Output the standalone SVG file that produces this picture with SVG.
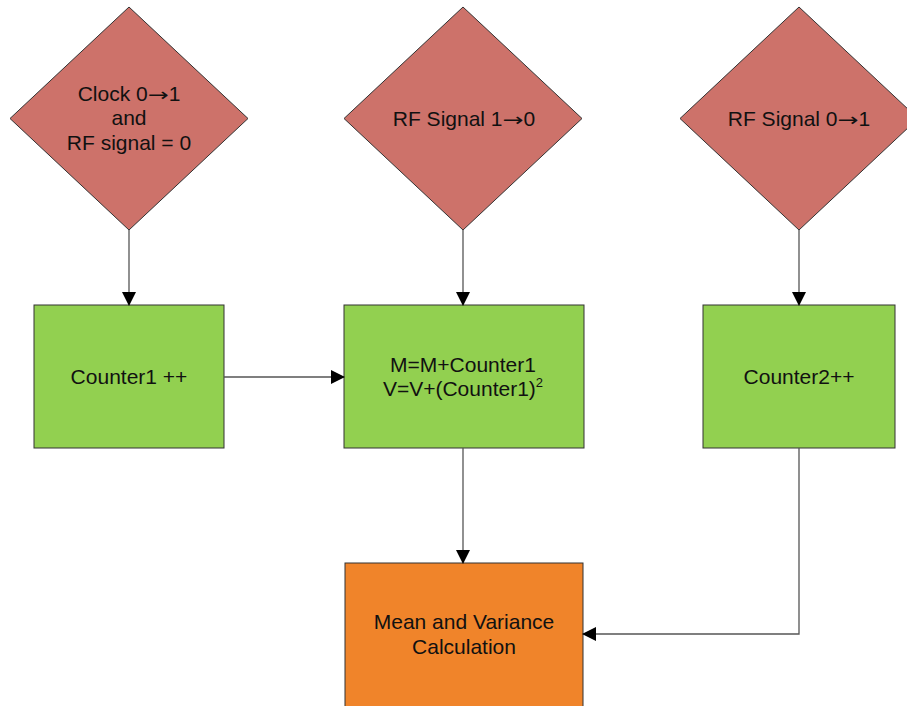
<svg xmlns="http://www.w3.org/2000/svg" width="907" height="706" viewBox="0 0 907 706">
<defs>
<marker id="arr" markerWidth="14" markerHeight="14" refX="13" refY="7" orient="auto" markerUnits="userSpaceOnUse">
<path d="M0,0 L14,7 L0,14 Z" fill="#000"/>
</marker>
<style>
.dia{fill:#CD726A;stroke:#333;stroke-width:1}
.grn{fill:#92D050;stroke:#333;stroke-width:1}
.org{fill:#F0842A;stroke:#333;stroke-width:1}
.t{font-family:"Liberation Sans",Arial,sans-serif;font-size:21px;fill:#111;text-anchor:middle}
.ar{font-family:"DejaVu Sans",sans-serif;font-size:18px}
.c{fill:none;stroke:#555;stroke-width:1.3}
</style>
</defs>
<rect width="907" height="706" fill="#fff"/>
<g id="d1">
<polygon class="dia" points="129,7 248,118.5 129,230 10,118.5"/>
<text class="t" x="129" y="101">Clock 0<tspan class="ar" textLength="21" lengthAdjust="spacingAndGlyphs">→</tspan>1</text>
<text class="t" x="129" y="125">and</text>
<text class="t" x="129" y="150">RF signal = 0</text>
</g>
<g id="d2">
<polygon class="dia" points="463,7 582,118.5 463,230 344,118.5"/>
<text class="t" x="464" y="126">RF Signal 1<tspan class="ar" textLength="21" lengthAdjust="spacingAndGlyphs">→</tspan>0</text>
</g>
<g id="d3">
<polygon class="dia" points="799,7 918,118.5 799,230 680,118.5"/>
<text class="t" x="799" y="126">RF Signal 0<tspan class="ar" textLength="21" lengthAdjust="spacingAndGlyphs">→</tspan>1</text>
</g>
<g id="b1">
<rect class="grn" x="34" y="305" width="190" height="143"/>
<text class="t" x="129" y="384">Counter1 ++</text>
</g>
<g id="b2">
<rect class="grn" x="344" y="305" width="240" height="143"/>
<text class="t" x="463" y="372">M=M+Counter1</text>
<text class="t" x="463" y="396">V=V+(Counter1)<tspan font-size="13" dy="-9">2</tspan></text>
</g>
<g id="b3">
<rect class="grn" x="703" y="305" width="192" height="143"/>
<text class="t" x="799" y="384">Counter2++</text>
</g>
<g id="b4">
<rect class="org" x="345" y="563" width="238" height="150"/>
<text class="t" x="464" y="629">Mean and Variance</text>
<text class="t" x="464" y="654">Calculation</text>
</g>
<g id="connectors">
<line class="c" x1="129" y1="230" x2="129" y2="305" marker-end="url(#arr)"/>
<line class="c" x1="463" y1="230" x2="463" y2="305" marker-end="url(#arr)"/>
<line class="c" x1="799" y1="230" x2="799" y2="305" marker-end="url(#arr)"/>
<line class="c" x1="224" y1="377" x2="344" y2="377" marker-end="url(#arr)"/>
<line class="c" x1="463" y1="448" x2="463" y2="563" marker-end="url(#arr)"/>
<polyline class="c" points="799,448 799,634 583,634" marker-end="url(#arr)"/>
</g>
</svg>
